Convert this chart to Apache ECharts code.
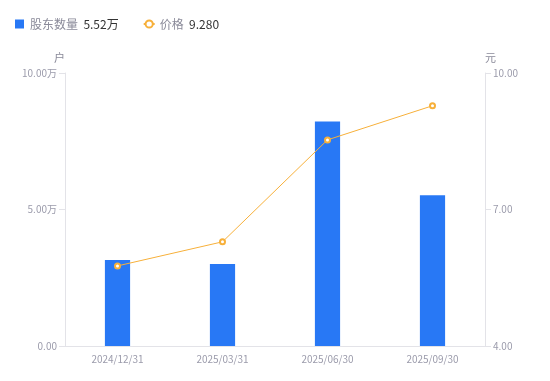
<!DOCTYPE html>
<html>
<head>
<meta charset="utf-8">
<script src="https://cdn.jsdelivr.net/npm/echarts@6/dist/echarts.min.js"></script>
<style>
  html, body { margin: 0; padding: 0; background: #fff; }
  #main { width: 550px; height: 381px; }
</style>
</head>
<body>
<div id="main"></div>
<script>
// 报告期
const dates = ['2024/12/31', '2025/03/31', '2025/06/30', '2025/09/30'];
// 股东数量（万户）
const holders = [3.15, 3.00, 8.22, 5.52];
// 价格（元）
const prices = [5.76, 6.29, 8.53, 9.28];

const latest = {
    '股东数量': holders[holders.length - 1].toFixed(2) + '万',
    '价格': prices[prices.length - 1].toFixed(3)
};

const font = '"Noto Sans CJK SC", "Noto Sans", sans-serif';
const labelColor = '#9b9bab';
const lineColor = '#e3e3e8';

let option = {
    animation: false,
    textStyle: { fontFamily: font },
    legend: {
        left: 10,
        top: 13,
        itemWidth: 11,
        itemHeight: 9,
        itemGap: 24,
        data: [
            { name: '股东数量', icon: 'path://M0,0H10V10H0Z' },
            { name: '价格' }
        ],
        formatter: function (name) {
            return '{n|' + name + '}  {v|' + latest[name] + '}';
        },
        textStyle: {
            fontFamily: font,
            rich: {
                n: { color: '#8a8a99', fontSize: 12, fontFamily: font },
                v: { color: '#333', fontSize: 12, fontFamily: font }
            }
        }
    },
    grid: {
        left: 65,
        right: 65,
        top: 73,
        bottom: 35,
        containLabel: false
    },
    xAxis: {
        type: 'category',
        data: dates,
        axisLine: { lineStyle: { color: lineColor } },
        axisTick: { show: false },
        axisLabel: { color: labelColor, fontSize: 10, margin: 8, fontFamily: font }
    },
    yAxis: [
        {
            type: 'value',
            name: '户',
            nameGap: 10,
            nameTextStyle: { color: '#8a8a99', fontSize: 11, align: 'right', fontFamily: font },
            min: 0,
            max: 10,
            interval: 5,
            axisLine: { show: true, lineStyle: { color: lineColor } },
            axisTick: { show: true, length: 6, lineStyle: { color: lineColor } },
            splitLine: { show: false },
            axisLabel: {
                color: labelColor,
                fontSize: 10,
                margin: 8,
                fontFamily: font,
                formatter: function (v) {
                    return v === 0 ? '0.00' : v.toFixed(2) + '万';
                }
            }
        },
        {
            type: 'value',
            name: '元',
            nameGap: 10,
            nameTextStyle: { color: '#8a8a99', fontSize: 11, align: 'left', fontFamily: font },
            min: 4,
            max: 10,
            interval: 3,
            axisLine: { show: true, lineStyle: { color: lineColor } },
            axisTick: { show: true, length: 6, lineStyle: { color: lineColor } },
            splitLine: { show: false },
            axisLabel: {
                color: labelColor,
                fontSize: 10,
                margin: 8,
                fontFamily: font,
                formatter: function (v) { return v.toFixed(2); }
            }
        }
    ],
    series: [
        {
            name: '股东数量',
            type: 'bar',
            yAxisIndex: 0,
            barWidth: '24%',
            itemStyle: { color: '#2878f5' },
            data: holders
        },
        {
            name: '价格',
            type: 'line',
            yAxisIndex: 1,
            symbol: 'emptyCircle',
            symbolSize: 5,
            itemStyle: { color: '#f7b03a', borderWidth: 1.5 },
            lineStyle: { color: '#f7b03a', width: 1 },
            data: prices
        }
    ]
};

var chart = echarts.init(document.getElementById('main'));
chart.setOption(option);
</script>
</body>
</html>
